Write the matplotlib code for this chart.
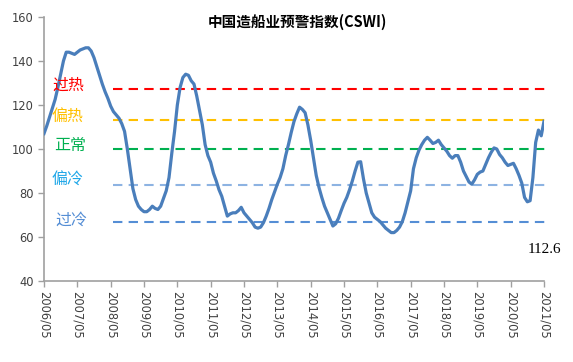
import numpy as np
import matplotlib
matplotlib.use("Agg")
import matplotlib.pyplot as plt

plt.rcParams['font.family'] = ['DejaVu Sans', 'Noto Sans CJK SC']

# --- datos: índice CSWI mensual 2006/05 - 2021/05 ---
cswi = [
    107, 110.5, 114.5, 118.5, 122.5, 128, 134, 140, 144, 144, 143.5, 143,
    144, 145, 145.5, 146, 146, 144.5, 141.5, 137.5, 133.5, 129.5, 126, 123,
    119.5, 117, 115.5, 114, 111.5, 108, 100, 91, 82, 77, 74, 72.5,
    71.5, 71.5, 72.5, 74, 73, 72.5, 74, 77.5, 81, 87, 98, 108,
    120, 128, 132.5, 134, 133.5, 131, 129.5, 124, 117.5, 111, 102, 97,
    94, 89, 85.5, 81.5, 78.5, 74, 69.5, 70.5, 71, 71, 72, 73.5,
    71, 69.5, 68, 66.5, 64.5, 64, 64.5, 66.5, 69.5, 73, 77, 80.5,
    84, 87, 91, 97, 102, 107.5, 112.5, 116, 119, 118, 116.5, 111,
    104, 96, 88, 82.5, 78, 74, 71, 68, 65, 66, 68.5, 72,
    75.3, 78, 81.5, 85.5, 90, 94, 94.2, 86.5, 80, 75.5, 71, 69,
    68, 67, 65.5, 64, 63, 62, 62, 63, 64.5, 67, 71, 76,
    81, 91, 96, 99.5, 102, 104, 105.3, 104, 102.5, 103, 104, 102,
    100.5, 99, 97, 95.8, 97, 97, 94, 90, 87.5, 85, 84, 86,
    88.5, 89.5, 90, 93, 96, 98.5, 100.5, 100, 97.5, 96, 94, 92.5,
    93, 93.5, 91, 88, 84.5, 78, 76, 76.5, 87, 103, 108.6, 106,
    112.6,
]
anios = [f"{a}/05" for a in range(2006, 2022)]

# niveles de alerta
niveles = [127.3, 113.2, 100, 83.6, 66.8]
etiquetas_nivel = ['过热', '偏热', '正常', '偏冷', '过冷']
colores_nivel = ['#FF0000', '#FFC000', '#00B050', '#8DB3E2', '#558ED5']
colores_texto = ['#FF0000', '#FFC000', '#00B050', '#1FA7E8', '#558ED5']
texto_x = [8.7, 8.5, 9.4, 8.6, 10]
texto_y = [129, 114.7, 101.4, 85.9, 67.7]

meses = np.arange(len(cswi))

fig = plt.figure(figsize=(5.73, 3.62), dpi=100)
ax = fig.add_axes([44/573, 1-281/362, 500/573, 264/362])

ax.plot(meses, cswi, color='#4A7EBB', lw=2.3, solid_joinstyle='round', zorder=3)

for nivel, col in zip(niveles, colores_nivel):
    ax.plot([25, 182], [nivel, nivel], color=col, lw=1.5, dashes=(4.5, 3),
            clip_on=False, zorder=2)

for txt, x, y, col in zip(etiquetas_nivel, texto_x, texto_y, colores_texto):
    ax.text(x, y, txt, color=col, fontsize=11.5, ha='center', va='center',
            fontweight='medium', family=['Noto Sans CJK SC', 'DejaVu Sans'],
            zorder=4)

ax.text(180, 54.4, f"{cswi[-1]}", fontsize=11, ha='center', va='center',
        family='Liberation Serif', color='black')

ax.set_xlim(0, 180)
ax.set_ylim(40, 160)
ax.set_yticks(range(40, 161, 20))
ax.set_xticks(range(0, 181, 12))
ax.set_xticklabels(anios, rotation=-90, fontsize=8.3, color='#404040')
ax.tick_params(axis='y', labelsize=8.3, labelcolor='#404040', length=4, color='#A0A0A0', width=1)
ax.tick_params(axis='x', length=4, color='#A0A0A0', width=1, pad=3)

for s in ['top', 'right']:
    ax.spines[s].set_visible(False)
for s in ['left', 'bottom']:
    ax.spines[s].set_color('#A0A0A0')
    ax.spines[s].set_linewidth(1.2)

fig.text(297/573, 1-22/362, '中国造船业预警指数(CSWI)', ha='center', va='center',
         fontsize=10.5, fontweight='bold', family=['Noto Sans CJK SC', 'DejaVu Sans'])

fig.savefig('out.png', dpi=100)
